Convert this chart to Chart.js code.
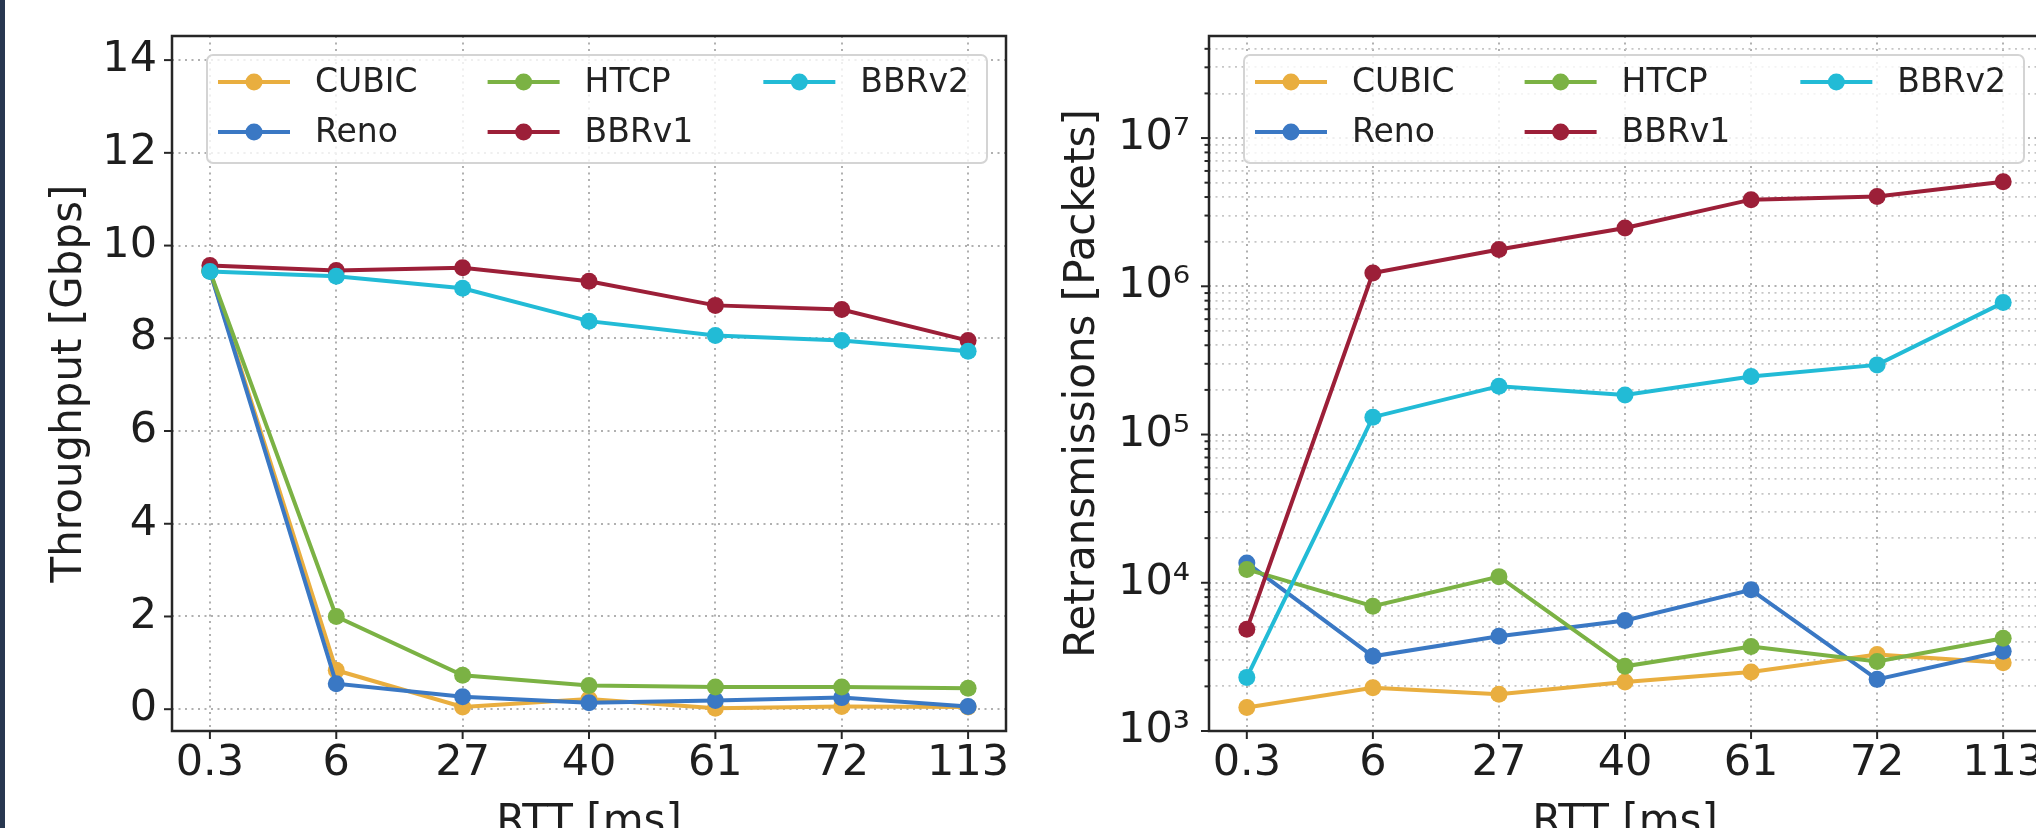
<!DOCTYPE html>
<html>
<head>
<meta charset="utf-8">
<script src="https://cdn.jsdelivr.net/npm/chart.js@4.4.0/dist/chart.umd.min.js"></script>
<style>
  html, body { margin: 0; padding: 0; background: #fff; width: 2036px; height: 828px; overflow: hidden; }
  #strip { position: absolute; left: 0; top: 0; width: 5px; height: 828px; background: #283750; }
  #c1 { position: absolute; left: 0; top: 0; }
  #c2 { position: absolute; left: 1020px; top: 0; }
</style>
</head>
<body>
<canvas id="c1" width="1020" height="900"></canvas>
<canvas id="c2" width="1040" height="900"></canvas>
<div id="strip"></div>
<script>
// categories + series
const rttLabels = ['0.3', '6', '27', '40', '61', '72', '113'];
const protocols = ['CUBIC', 'Reno', 'HTCP', 'BBRv1', 'BBRv2'];
const protoColors = ['#e9ae3f', '#3a78c4', '#7bb244', '#9c1f38', '#22bbd6'];

// throughput [Gbps]
const tputCubic = [9.45, 0.84, 0.05, 0.22, 0.02, 0.06, 0.05];
const tputReno  = [9.45, 0.55, 0.27, 0.14, 0.19, 0.25, 0.06];
const tputHtcp  = [9.45, 2.00, 0.73, 0.51, 0.48, 0.48, 0.45];
const tputBbr1  = [9.57, 9.46, 9.52, 9.23, 8.71, 8.62, 7.95];
const tputBbr2  = [9.44, 9.34, 9.08, 8.37, 8.06, 7.95, 7.72];
const tputTicks = [0, 2, 4, 6, 8, 10, 12, 14];

// retransmissions [packets]
const retrCubic = [1440, 1960, 1770, 2140, 2500, 3280, 2890];
const retrReno  = [13600, 3190, 4350, 5570, 8960, 2230, 3450];
const retrHtcp  = [12300, 6950, 11000, 2730, 3720, 2940, 4220];
const retrBbr1  = [4850, 1230000, 1770000, 2470000, 3840000, 4040000, 5080000];
const retrBbr2  = [2300, 131000, 212000, 185000, 246000, 295000, 776000];
const retrDecades = [3, 4, 5, 6, 7];

const FONT = '"DejaVu Sans", "Liberation Sans", sans-serif';
const sup = { 3: '\u00b3', 4: '\u2074', 5: '\u2075', 6: '\u2076', 7: '\u2077' };
const isPow10 = v => { const e = Math.round(Math.log10(v)); return Math.abs(v - Math.pow(10, e)) < 1e-6 * v; };

// matplotlib-like frame + outward ticks
const frame = {
  id: 'frame',
  afterDatasetsDraw(chart) {
    const { ctx, chartArea: a, scales } = chart;
    ctx.save();
    ctx.strokeStyle = '#262626';
    ctx.lineWidth = 2;
    scales.x.ticks.forEach(t => {
      const px = scales.x.getPixelForValue(t.value);
      ctx.beginPath(); ctx.moveTo(px, a.bottom); ctx.lineTo(px, a.bottom + 8); ctx.stroke();
    });
    const logY = scales.y.type === 'logarithmic';
    scales.y.ticks.forEach(t => {
      const py = scales.y.getPixelForValue(t.value);
      const len = (logY && !isPow10(t.value)) ? 4.5 : 8;
      ctx.beginPath(); ctx.moveTo(a.left, py); ctx.lineTo(a.left - len, py); ctx.stroke();
    });
    ctx.lineWidth = 2.5;
    ctx.strokeRect(a.left, a.top, a.right - a.left, a.bottom - a.top);
    ctx.restore();
  }
};

// boxed legend inside the axes, 3 columns filled column-wise
const boxLegend = {
  id: 'boxLegend',
  afterDraw(chart) {
    const { ctx, chartArea: a } = chart;
    const sets = chart.data.datasets;
    const x0 = a.left + 35, y0 = a.top + 19, w = 780, h = 108;
    ctx.save();
    ctx.fillStyle = 'rgba(255,255,255,0.8)';
    ctx.strokeStyle = '#d4d4d4';
    ctx.lineWidth = 2;
    ctx.beginPath(); ctx.roundRect(x0, y0, w, h, 6); ctx.fill(); ctx.stroke();
    ctx.font = '33px ' + FONT;
    ctx.textBaseline = 'middle';
    ctx.textAlign = 'left';
    let x = x0 + 11;
    for (let col = 0; col < 3; col++) {
      const items = sets.slice(col * 2, col * 2 + 2);
      let maxW = 0;
      items.forEach((ds, row) => {
        const y = y0 + 27 + row * 50;
        ctx.strokeStyle = ds.borderColor; ctx.lineWidth = 4;
        ctx.beginPath(); ctx.moveTo(x, y); ctx.lineTo(x + 72, y); ctx.stroke();
        ctx.fillStyle = ds.borderColor;
        ctx.beginPath(); ctx.arc(x + 36, y, 8.5, 0, Math.PI * 2); ctx.fill();
        ctx.fillStyle = '#222';
        ctx.fillText(ds.label, x + 97, y + 1);
        maxW = Math.max(maxW, ctx.measureText(ds.label).width);
      });
      x += 97 + maxW + 70;
    }
    ctx.restore();
  }
};

function makeChart(id, series, yOpts, yTitle, yTitlePad, yWidth, padRight) {
  const H = 900, bottom = 731;
  return new Chart(document.getElementById(id), {
    type: 'line',
    data: {
      datasets: series.map((vals, i) => ({
        label: protocols[i],
        data: vals.map((v, j) => ({ x: j, y: v })),
        borderColor: protoColors[i],
        backgroundColor: protoColors[i],
        borderWidth: 4,
        pointRadius: 8.5,
        pointHoverRadius: 8.5,
        pointBorderWidth: 0,
        tension: 0,
        order: series.length - i
      }))
    },
    options: {
      responsive: false,
      animation: false,
      events: [],
      layout: { padding: { top: 36, right: padRight, left: 0, bottom: 0 } },
      plugins: { legend: { display: false }, tooltip: { enabled: false } },
      scales: {
        x: {
          type: 'linear', min: -0.3, max: 6.3,
          afterBuildTicks: s => { s.ticks = rttLabels.map((_, i) => ({ value: i })); },
          afterFit: s => { s.height = H - bottom; s.paddingLeft = 0; s.paddingRight = 0; },
          ticks: {
            autoSkip: false, maxRotation: 0, padding: 11.5, color: '#1e1e1e',
            font: { family: FONT, size: 43, lineHeight: 1 },
            callback: v => rttLabels[v]
          },
          grid: { color: '#b0b0b0', lineWidth: 2, drawTicks: false },
          border: { display: false, dash: [2, 4.5] },
          title: {
            display: true, text: 'RTT [ms]', color: '#1e1e1e',
            font: { family: FONT, size: 42, lineHeight: 1 },
            padding: { top: 0, bottom: 56 }
          }
        },
        y: Object.assign({
          afterFit: s => { s.width = yWidth; s.paddingTop = 0; s.paddingBottom = 0; },
          border: { display: false, dash: [2, 4.5] },
          title: {
            display: true, text: yTitle, color: '#1e1e1e',
            font: { family: FONT, size: 42, lineHeight: 1 },
            padding: { top: yTitlePad, bottom: 0 }
          }
        }, yOpts)
      }
    },
    plugins: [frame, boxLegend]
  });
}

makeChart('c1', [tputCubic, tputReno, tputHtcp, tputBbr1, tputBbr2], {
  type: 'linear', min: -0.47, max: 14.52,
  afterBuildTicks: s => { s.ticks = tputTicks.map(v => ({ value: v })); },
  ticks: { autoSkip: false, padding: 15, color: '#1e1e1e', font: { family: FONT, size: 43, lineHeight: 1 } },
  grid: { color: '#b0b0b0', lineWidth: 2, drawTicks: false }
}, 'Throughput [Gbps]', 49, 172, 14);

makeChart('c2', [retrCubic, retrReno, retrHtcp, retrBbr1, retrBbr2], {
  type: 'logarithmic', min: 1000, max: 4.88e7,
  afterBuildTicks: s => {
    const t = [];
    retrDecades.forEach(e => {
      for (let k = 1; k < 10; k++) {
        const v = k * Math.pow(10, e);
        if (v <= s.max) t.push({ value: v });
      }
    });
    s.ticks = t;
  },
  ticks: {
    autoSkip: false, padding: 19, color: '#1e1e1e',
    font: { family: FONT, size: 43, lineHeight: 1 },
    callback: v => isPow10(v) ? '10' + sup[Math.round(Math.log10(v))] : ''
  },
  grid: {
    color: c => (c.tick && isPow10(c.tick.value)) ? '#b0b0b0' : '#c6c6c6',
    lineWidth: c => (c.tick && isPow10(c.tick.value)) ? 2 : 1.8,
    drawTicks: false
  }
}, 'Retransmissions [Packets]', 42, 189, 19);
</script>
</body>
</html>
